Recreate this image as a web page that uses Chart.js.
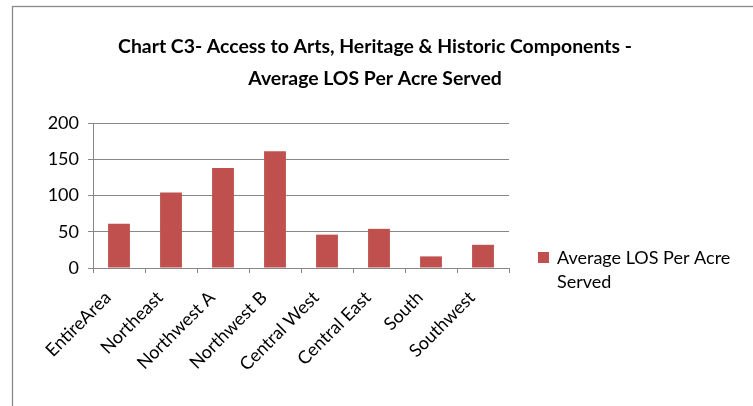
<!DOCTYPE html>
<html>
<head>
<meta charset="utf-8">
<script src="https://cdn.jsdelivr.net/npm/chart.js@4.4.1/dist/chart.umd.min.js"></script>
<style>
html,body{margin:0;padding:0;background:#fff;}
#wrap{width:753px;height:406px;position:relative;}
</style>
</head>
<body>
<div id="wrap"><canvas id="c" width="753" height="406"></canvas></div>
<script>
const categories = ["EntireArea", "Northeast", "Northwest A", "Northwest B", "Central West", "Central East", "South", "Southwest"];
const seriesName = "Average LOS Per Acre Served";
const seriesValues = [61, 104, 138, 161, 46, 54, 16, 32];
const titleLines = ["Chart C3- Access to Arts, Heritage & Historic Components -", "Average LOS Per Acre Served"];
const yTickMax = 200;
const yTickStep = 50;

const FONT = "Lato, 'Open Sans', sans-serif";
const GRID = "#878787";
const BAR = "#C0504D";

const framePlugin = {
  id: "frame",
  beforeDraw(chart) {
    const ctx = chart.ctx;
    ctx.save();
    ctx.fillStyle = "#fff";
    ctx.fillRect(0, 0, chart.width, chart.height);
    ctx.strokeStyle = "#8a8a8a";
    ctx.lineWidth = 1.3;
    ctx.strokeRect(12.5, 6.5, 900, 600);
    ctx.restore();
  },
  afterDraw(chart) {
    const ctx = chart.ctx;
    ctx.save();
    // title
    ctx.fillStyle = "#000";
    ctx.textAlign = "center";
    ctx.textBaseline = "middle";
    ctx.font = "bold 19.4px " + FONT;
    ctx.fillText(titleLines[0], 375, 47);
    ctx.fillText(titleLines[1], 375, 79);
    // legend
    const ds = chart.data.datasets[0];
    ctx.fillStyle = ds.backgroundColor;
    ctx.fillRect(538, 252, 11, 11);
    ctx.font = "18px " + FONT;
    ctx.textAlign = "left";
    ctx.fillStyle = "#000";
    const words = ds.label.split(" ");
    const lines = [];
    let cur = "";
    for (const w of words) {
      const t = cur ? cur + " " + w : w;
      if (ctx.measureText(t).width > 185 && cur) { lines.push(cur); cur = w; } else cur = t;
    }
    if (cur) lines.push(cur);
    lines.forEach((l, i) => ctx.fillText(l, 557, 258 + i * 24));
    ctx.restore();
  }
};

new Chart(document.getElementById("c"), {
  type: "bar",
  data: {
    labels: categories,
    datasets: [{
      label: seriesName,
      data: seriesValues,
      backgroundColor: BAR,
      borderWidth: 0,
      barPercentage: 0.42,
      categoryPercentage: 1.0
    }]
  },
  options: {
    responsive: false,
    animation: false,
    devicePixelRatio: 1,
    layout: { padding: { left: 43, right: 244, top: 123, bottom: 0 } },
    plugins: {
      legend: { display: false },
      title: { display: false },
      tooltip: { enabled: false }
    },
    scales: {
      x: {
        offset: true,
        grid: { offset: true, drawOnChartArea: false, drawTicks: true, tickLength: 5, color: GRID, lineWidth: 1 },
        border: { color: GRID, width: 1 },
        ticks: {
          autoSkip: false, minRotation: 45, maxRotation: 45,
          color: "#000", font: { family: FONT, size: 18 }, padding: 14, labelOffset: -11
        },
        afterFit(scale) { scale.height = 138; scale.paddingLeft = 0; scale.paddingRight = 0; }
      },
      y: {
        min: 0, max: yTickMax,
        grid: { color: GRID, lineWidth: 1, tickLength: 5 },
        border: { color: GRID, width: 1 },
        ticks: { stepSize: yTickStep, color: "#000", font: { family: FONT, size: 18 }, padding: 9 },
        afterFit(scale) { scale.width = 50; }
      }
    }
  },
  plugins: [framePlugin]
});
</script>
</body>
</html>
